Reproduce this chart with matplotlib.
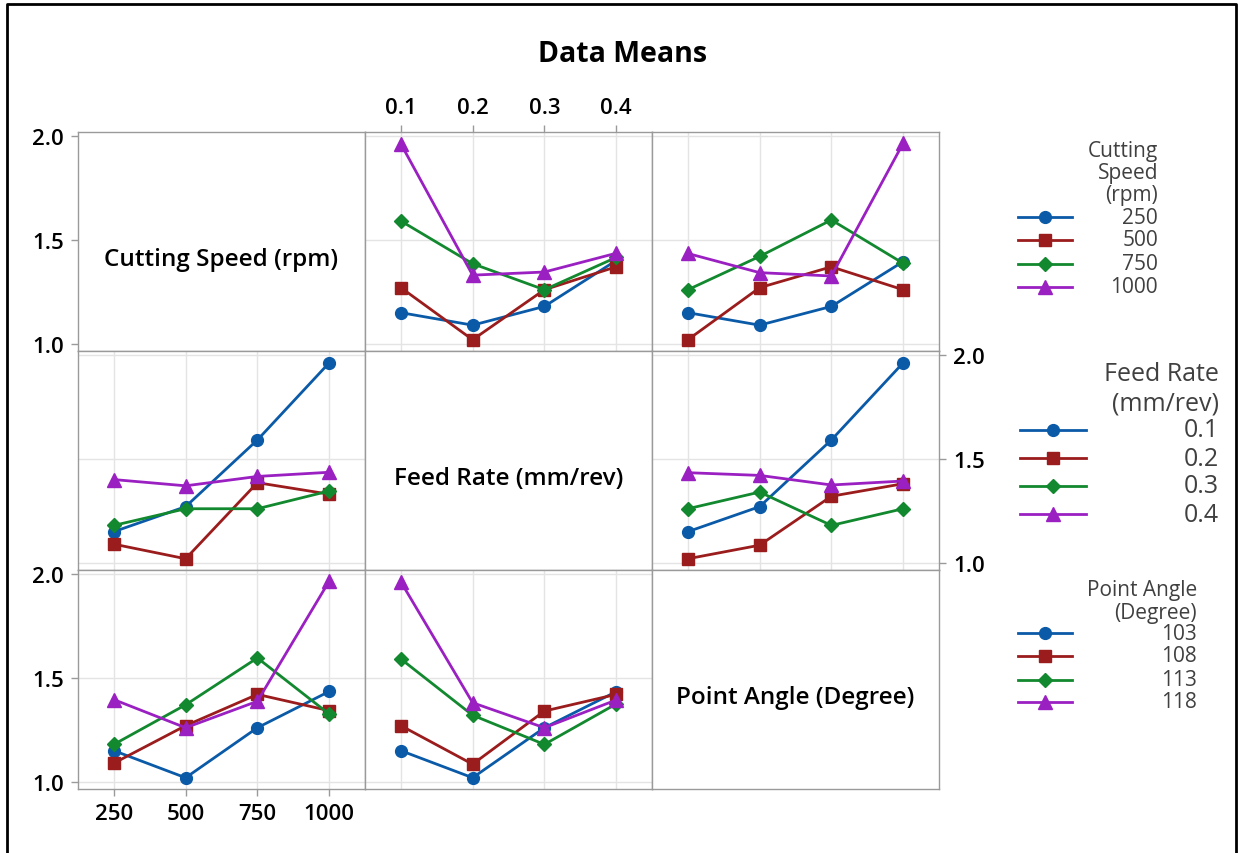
import numpy as np
import matplotlib
matplotlib.use("Agg")
import matplotlib.pyplot as plt
from matplotlib.lines import Line2D

plt.rcParams['font.family'] = ['Open Sans', 'DejaVu Sans']

# factor levels
cutting_speed = [250, 500, 750, 1000]
feed_rate = [0.1, 0.2, 0.3, 0.4]
point_angle = [103, 108, 113, 118]

cs_labels = ["250", "500", "750", "1000"]
fr_labels = ["0.1", "0.2", "0.3", "0.4"]
pa_labels = ["103", "108", "113", "118"]

# cell means, rows = cutting speed, cols = feed rate
cs_fr = np.array([
    [1.15, 1.09, 1.18, 1.40],
    [1.27, 1.02, 1.26, 1.37],
    [1.59, 1.385, 1.26, 1.415],
    [1.96, 1.33, 1.345, 1.435],
])
# rows = cutting speed, cols = point angle
cs_pa = np.array([
    [1.15, 1.09, 1.18, 1.395],
    [1.02, 1.27, 1.37, 1.26],
    [1.26, 1.42, 1.595, 1.387],
    [1.434, 1.342, 1.326, 1.963],
])
# rows = feed rate, cols = point angle
fr_pa = np.array([
    [1.15, 1.27, 1.59, 1.96],
    [1.02, 1.085, 1.32, 1.38],
    [1.26, 1.34, 1.18, 1.26],
    [1.433, 1.42, 1.374, 1.393],
])

colors = ['#0a5aa8', '#9b1c1c', '#12882f', '#9a20c2']
markers = ['o', 's', 'D', '^']
msizes = [8.5, 8, 7, 9.5]

W, H = 1239, 854
fig = plt.figure(figsize=(W / 100, H / 100), dpi=100)

col_left = [78, 365, 652]
col_w = 287
row_top = [133, 352, 571]
row_h = 219

levels = [cutting_speed, feed_rate, point_angle]
tick_labels = [cs_labels, fr_labels, pa_labels]
xlims = [(125, 1125), (0.05, 0.45), (100.5, 120.5)]
names = ["Cutting Speed (rpm)", "Feed Rate (mm/rev)", "Point Angle (Degree)"]

# means[(i, j)] -> x = factor j, traces = factor i ; shape (trace, x)
means = {
    (0, 1): cs_fr, (1, 0): cs_fr.T,
    (0, 2): cs_pa, (2, 0): cs_pa.T,
    (1, 2): fr_pa, (2, 1): fr_pa.T,
}

spine_col = '#9a9a9a'
grid_col = '#e4e4e4'
tick_font = dict(fontsize=16, fontweight='semibold', color='#000000')

for i in range(3):
    for j in range(3):
        left = col_left[j] / W
        bottom = 1 - (row_top[i] + row_h) / H
        ax = fig.add_axes([left, bottom, col_w / W, row_h / H])
        ax.set_xlim(*xlims[j])
        ax.set_ylim(0.966, 2.017)
        for s in ax.spines.values():
            s.set_color(spine_col)
            s.set_linewidth(1)
        ax.set_xticks(levels[j])
        ax.set_yticks([1.0, 1.5, 2.0])
        ax.tick_params(length=5, color=spine_col, width=1, pad=5)
        ax.set_xticklabels(tick_labels[j], **tick_font)
        ax.set_yticklabels(["1.0", "1.5", "2.0"], **tick_font)
        ax.tick_params(bottom=False, labelbottom=False, left=False, labelleft=False,
                       top=False, labeltop=False, right=False, labelright=False)
        if i == j:
            ax.text(0.5, 0.42, names[i], transform=ax.transAxes, ha='center',
                    va='center', fontsize=17.5, fontweight='semibold', color='#000000')
            if i == 0:
                ax.tick_params(left=True, labelleft=True)
            continue
        ax.grid(True, color=grid_col, linewidth=1)
        ax.set_axisbelow(True)
        data = means[(i, j)]
        for k in range(4):
            ax.plot(levels[j], data[k], color=colors[k], marker=markers[k],
                    markersize=msizes[k], linewidth=2, clip_on=False, zorder=3)
        # tick labels on alternating sides like Minitab
        if i == 0 and j == 1:
            ax.tick_params(top=True, labeltop=True)
        if i == 2 and j in (0, 2):
            ax.tick_params(bottom=True, labelbottom=True)
        if i == 2 and j == 0:
            ax.tick_params(left=True, labelleft=True)
        if i == 1 and j == 2:
            ax.tick_params(right=True, labelright=True)

fig.text(623 / W, 1 - 55 / H, "Data Means", ha='center', va='center',
         fontsize=20.5, fontweight='bold', color='#000000')


def draw_legend(title_lines, labels, title_y, entry_y, text_x, x0, x1, size):
    for t, y in zip(title_lines, title_y):
        fig.text(text_x / W, 1 - y / H, t, ha='right', va='center',
                 fontsize=size, color='#404040')
    for k, (lab, y) in enumerate(zip(labels, entry_y)):
        fig.text(text_x / W, 1 - y / H, lab, ha='right', va='center',
                 fontsize=size, color='#404040')
        xs = [x0 / W, (x0 + x1) / 2 / W, x1 / W]
        yy = [1 - y / H] * 3
        fig.add_artist(Line2D(xs, yy, transform=fig.transFigure, color=colors[k],
                              marker=markers[k], markersize=msizes[k], markevery=[1],
                              linewidth=2))


draw_legend(["Cutting", "Speed", "(rpm)"], cs_labels, [152, 174, 196],
            [218, 241, 265, 288], 1158, 1018, 1072, 15)
draw_legend(["Feed Rate", "(mm/rev)"], fr_labels, [375, 404],
            [431, 459, 487, 515], 1219, 1020, 1086, 18)
draw_legend(["Point Angle", "(Degree)"], pa_labels, [591, 613],
            [634, 657, 681, 703], 1197, 1018, 1072, 15)

# outer frame (left, top, right)
fig.add_artist(Line2D([7 / W, 7 / W, 1236 / W, 1236 / W],
                      [0, 1 - 5 / H, 1 - 5 / H, 0], transform=fig.transFigure,
                      color='black', linewidth=2))

fig.savefig("out.png", dpi=100)
